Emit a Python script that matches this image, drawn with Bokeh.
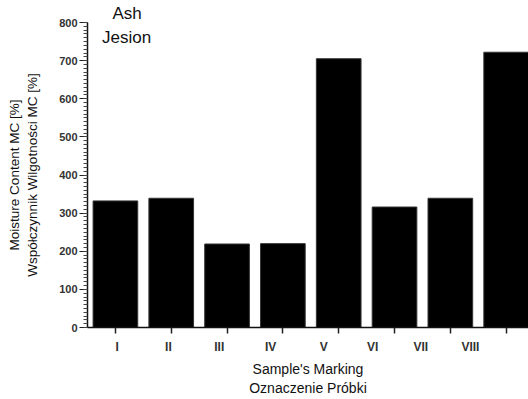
from bokeh.plotting import figure
from bokeh.models import Range1d, FixedTicker, Label, Title
from bokeh.embed import file_html
from bokeh.resources import INLINE

# Data
samples = ["I", "II", "III", "IV", "V", "VI", "VII", "VIII"]
moisture = [332, 339, 219, 220, 705, 316, 339, 722]
label_pos = [0.03, 0.95, 1.86, 2.78, 3.73, 4.61, 5.47, 6.36]
y_major = [0, 100, 200, 300, 400, 500, 600, 700, 800]
y_minor = list(range(0, 801, 10))

FONT = "Liberation Sans"

p = figure(width=528, height=399, output_backend="svg", toolbar_location=None,
           x_range=Range1d(-0.5, 7.4), y_range=Range1d(0, 800),
           min_border_left=87, min_border_right=0, min_border_top=22,
           min_border_bottom=72)
p.outline_line_color = None
p.grid.visible = False
p.background_fill_color = "white"
p.border_fill_color = "white"

p.title = Title(text="Ash", align="left", offset=25, standoff=0,
                text_font=FONT, text_font_size="17px", text_font_style="normal",
                text_color="#111111", text_line_height=1.0)

xs = list(range(len(samples)))
p.vbar(x=xs, top=moisture, width=0.8, fill_color="black", line_color="#333333",
       line_width=1)

# X axis
xa = p.xaxis[0]
xa.ticker = FixedTicker(ticks=label_pos, minor_ticks=xs)
xa.major_label_overrides = {pos: lab for pos, lab in zip(label_pos, samples)}
xa.major_tick_out = 0
xa.major_tick_in = 0
xa.minor_tick_out = 6
xa.minor_tick_in = 0
xa.minor_tick_line_color = "#222222"
xa.minor_tick_line_width = 1.5
xa.axis_line_width = 1.5
xa.axis_line_color = "#111111"
xa.major_label_standoff = 6
xa.major_label_text_font = FONT
xa.major_label_text_font_size = "12px"
xa.major_label_text_font_style = "bold"
xa.major_label_text_color = "#333333"
xa.axis_label = "Sample's Marking\nOznaczenie Próbki"
xa.axis_label_text_font = FONT
xa.axis_label_text_font_size = "14px"
xa.axis_label_text_font_style = "normal"
xa.axis_label_text_color = "#111111"
xa.axis_label_standoff = 4

# Y axis
ya = p.yaxis[0]
ya.ticker = FixedTicker(ticks=y_major, minor_ticks=y_minor)
ya.major_tick_out = 8
ya.major_tick_in = 0
ya.minor_tick_out = 4
ya.minor_tick_in = 0
ya.major_tick_line_width = 1.2
ya.minor_tick_line_width = 1
ya.major_tick_line_color = "#222222"
ya.minor_tick_line_color = "#444444"
ya.axis_line_width = 1.5
ya.axis_line_color = "#111111"
ya.major_label_standoff = 2
ya.major_label_text_font = FONT
ya.major_label_text_font_size = "11px"
ya.major_label_text_font_style = "bold"
ya.major_label_text_color = "#333333"
ya.axis_label = "Moisture Content MC [%]\nWspółczynnik Wilgotności MC [%]"
ya.axis_label_text_font = FONT
ya.axis_label_text_font_size = "13.5px"
ya.axis_label_text_font_style = "normal"
ya.axis_label_text_color = "#111111"
ya.axis_label_standoff = 16

# Inset subtitle
p.add_layout(Label(x=0.2, y=800, y_offset=-15, text="Jesion", text_align="center",
                   text_baseline="middle", text_font=FONT, text_font_size="17px",
                   text_color="#111111"))

open("out.html", "w").write(file_html(p, INLINE))
